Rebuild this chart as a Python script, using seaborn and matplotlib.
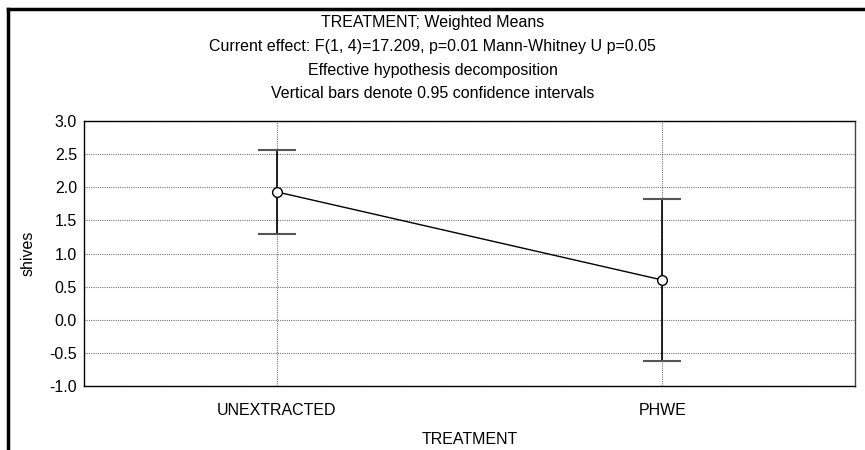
import matplotlib
matplotlib.use("Agg")
import matplotlib.pyplot as plt
import seaborn as sns
import pandas as pd
from matplotlib.lines import Line2D

categories = ["UNEXTRACTED", "PHWE"]
means = [1.93, 0.60]
ci_low = [1.30, -0.63]
ci_high = [2.56, 1.83]
yticks = [-1.0, -0.5, 0.0, 0.5, 1.0, 1.5, 2.0, 2.5, 3.0]
title_lines = [
    "TREATMENT; Weighted Means",
    "Current effect: F(1, 4)=17.209, p=0.01 Mann-Whitney U p=0.05",
    "Effective hypothesis decomposition",
    "Vertical bars denote 0.95 confidence intervals",
]

sns.set_theme(style="white")
plt.rcParams["font.family"] = ["Liberation Sans", "DejaVu Sans"]
FS = 11.5

df = pd.DataFrame({"TREATMENT": categories, "shives": means})
df["x"] = range(len(categories))

fig = plt.figure(figsize=(8.65, 4.5), dpi=100)
ax = fig.add_axes([84 / 865, 1 - 386 / 450, (855 - 84) / 865, (386 - 121) / 450])

# error bars
lo = [m - l for m, l in zip(means, ci_low)]
hi = [h - m for m, h in zip(means, ci_high)]
eb = ax.errorbar(df["x"], df["shives"], yerr=[lo, hi], fmt="none", ecolor="black",
                 elinewidth=1.2, capsize=14, capthick=1.5, zorder=3)
for cap in eb[1]:
    cap.set_markeredgecolor("#555555")
    cap.set_color("#555555")

sns.lineplot(data=df, x="x", y="shives", ax=ax, color="black", linewidth=1,
             marker="o", markersize=7, markerfacecolor="white",
             markeredgecolor="black", markeredgewidth=1, zorder=4)

ax.set_xlim(-0.5, 1.5)
ax.set_ylim(-1.0, 3.0)
ax.set_xticks(df["x"])
ax.set_xticklabels(categories, fontsize=FS, color="black")
ax.set_yticks(yticks)
ax.set_yticklabels([f"{v:.1f}" for v in yticks], fontsize=FS, color="black")
ax.grid(True, linestyle=(0, (1, 1)), color="#777777", linewidth=0.8)
ax.tick_params(axis="x", length=4, direction="out", color="#777777", width=0.8, pad=8)
ax.tick_params(axis="y", length=0, pad=5)
for s in ax.spines.values():
    s.set_visible(True)
    s.set_color("black")
    s.set_linewidth(1)
ax.spines["right"].set_color("#444444")

ax.set_xlabel("TREATMENT", fontsize=FS, color="black", labelpad=10)
ax.set_ylabel("shives", fontsize=FS, color="black", labelpad=10)

ys = [22, 46, 70, 94]
for t, y in zip(title_lines, ys):
    fig.text(0.5, 1 - y / 450, t, ha="center", va="center", fontsize=FS, color="black")

# outer frame (top and left)
fig.add_artist(Line2D([8 / 865, 1.0], [1 - 9 / 450, 1 - 9 / 450], color="black",
                      linewidth=2.5, transform=fig.transFigure, solid_capstyle="projecting"))
fig.add_artist(Line2D([8 / 865, 8 / 865], [0, 1 - 9 / 450], color="black",
                      linewidth=2.5, transform=fig.transFigure, solid_capstyle="projecting"))

fig.savefig("out.png", dpi=100)
